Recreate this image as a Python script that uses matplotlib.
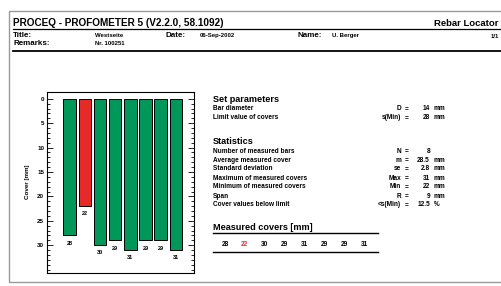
import matplotlib
matplotlib.use('Agg')
import matplotlib.pyplot as plt
from matplotlib.patches import Rectangle
from matplotlib.lines import Line2D

plt.rcParams['font.family'] = ['Liberation Sans', 'DejaVu Sans']

covers = [28, 22, 30, 29, 31, 29, 29, 31]
limit_cover = 28
bar_labels = [str(v) for v in covers]

param_rows = [('Bar diameter', 'D', '14', 'mm'),
              ('Limit value of covers', 's(Min)', '28', 'mm')]
stat_rows = [('Number of measured bars', 'N', '8', ''),
             ('Average measured cover', 'm', '28.5', 'mm'),
             ('Standard deviation', 'se', '2.8', 'mm'),
             ('Maximum of measured covers', 'Max', '31', 'mm'),
             ('Minimum of measured covers', 'Min', '22', 'mm'),
             ('Span', 'R', '9', 'mm'),
             ('Cover values below limit', '<s(Min)', '12.5', '%')]

GREEN = '#00985a'
RED = '#e62a2a'
W, H = 501, 286

fig = plt.figure(figsize=(W / 100, H / 100), dpi=100)


def P(x, y):
    return x / W, 1 - y / H


def txt(x, y, s, size=4.5, ha='left', color='black', weight='bold'):
    fig.text(*P(x, y), s, fontsize=size, ha=ha, va='center',
             color=color, fontweight=weight)


def hline(x0, x1, y, lw=1.0, color='black'):
    fig.add_artist(Line2D([x0 / W, x1 / W], [1 - y / H, 1 - y / H],
                          lw=lw, color=color, transform=fig.transFigure))


# outer page frame
fig.add_artist(Rectangle(P(9, 282), (W + 5 - 9) / W, (282 - 11) / H,
                         transform=fig.transFigure, fill=False,
                         ec='#9a9a9a', lw=1.0))

# header
txt(13, 23, 'PROCEQ - PROFOMETER 5 (V2.2.0, 58.1092)', size=7.2)
txt(499, 23, 'Rebar Locator', size=6.8, ha='right')
hline(13, W, 29, lw=0.9)
txt(13, 35.5, 'Title:', size=5.8)
txt(13, 43.5, 'Remarks:', size=5.8)
txt(95, 35.5, 'Westseite', size=4.3)
txt(95, 43.5, 'Nr. 100251', size=4.3)
txt(165, 35.5, 'Date:', size=5.8)
txt(200, 35.5, '06-Sep-2002', size=4.3)
txt(298, 35.5, 'Name:', size=5.8)
txt(332, 35.5, 'U. Berger', size=4.3)
txt(499, 37, '1/1', size=4.3, ha='right')
hline(13, W, 50.5, lw=1.3)

# bar chart of covers
ax = fig.add_axes([47 / W, 1 - 273 / H, (194 - 47) / W, (273 - 92) / H])
xs = list(range(1, len(covers) + 1))
colors = [RED if v < limit_cover else GREEN for v in covers]
ax.bar(xs, covers, width=0.83, color=colors, edgecolor='black', lw=0.7)
for x, v, lab in zip(xs, covers, bar_labels):
    ax.text(x, v + 1.6, lab, ha='center', va='center', fontsize=4,
            fontweight='bold')
ax.set_xlim(-0.5, 9.2)
ax.set_ylim(35.7, -1.4)
ax.set_xticks([])
ax.set_yticks(range(0, 31, 5))
ax.set_yticks(range(0, 36), minor=True)
ax.tick_params(axis='y', which='both', direction='in', right=True,
               labelsize=4.5, width=0.6, pad=2)
ax.tick_params(axis='y', which='major', length=4)
ax.tick_params(axis='y', which='minor', length=2)
for lab in ax.get_yticklabels():
    lab.set_fontweight('bold')
for sp in ax.spines.values():
    sp.set_linewidth(0.8)
fig.text(*P(28, 182), 'Cover [mm]', rotation=90, fontsize=4.5,
         fontweight='bold', ha='center', va='center')

# parameters and statistics
lx, sx, ex, vx, ux = 213, 401, 407, 430, 434
rs = 4.7


def stat_row(y, name, sym, val, unit):
    txt(lx, y, name, size=rs)
    txt(sx, y, sym, size=rs, ha='right')
    txt(ex, y, '=', size=rs, ha='center')
    txt(vx, y, val, size=rs, ha='right')
    txt(ux, y, unit, size=rs)


txt(lx, 100, 'Set parameters', size=6.6)
for i, row in enumerate(param_rows):
    stat_row(109 + i * 8.5, *row)
txt(lx, 142, 'Statistics', size=6.6)
for i, row in enumerate(stat_rows):
    stat_row(151 + i * 9, *row)

# measured covers row
txt(lx, 227, 'Measured covers [mm]', size=6.6)
hline(lx, 378, 233, lw=1.0)
for i, v in enumerate(covers):
    txt(225 + i * 19.9, 244, str(v), size=rs, ha='center',
        color=RED if v < limit_cover else 'black')
hline(lx, 378, 252, lw=1.0)

fig.savefig('out.png', dpi=100, facecolor='white')
